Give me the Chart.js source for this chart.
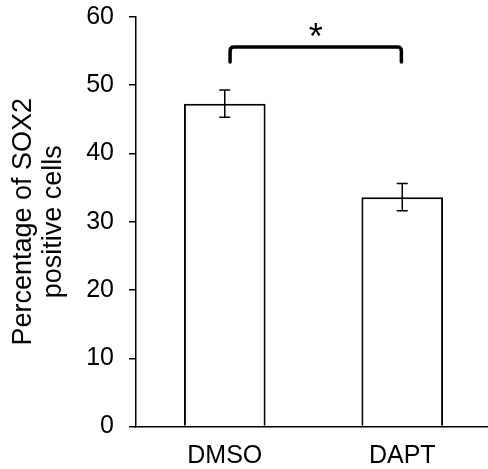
<!DOCTYPE html>
<html>
<head>
<meta charset="utf-8">
<script src="https://cdn.jsdelivr.net/npm/chart.js@4.4.0/dist/chart.umd.min.js"></script>
<style>
  html, body { margin: 0; background: #fff; overflow: hidden; }
  #wrap { width: 491px; height: 486px; }
</style>
</head>
<body>
<div id="wrap"><canvas id="grafica" width="491" height="486"></canvas></div>
<script>
// datos
const categorias = ["DMSO", "DAPT"];
const medias = [47.3, 33.6];
const errores = [2.0, 2.0];
const yMin = 0, yMax = 60, yPaso = 10;
const tituloY = ["Percentage of SOX2", "positive cells"];
// corchete de significancia
const parSig = [0, 1];
const nivelSig = 55.6;
const caidaSig = 2.2;
const marcaSig = "*";

const fuente = "'Liberation Sans', Arial, sans-serif";

// barras de error
const errorBars = {
  id: "errorBars",
  afterDatasetsDraw(chart) {
    const ctx = chart.ctx;
    const y = chart.scales.y;
    const meta = chart.getDatasetMeta(0);
    ctx.save();
    ctx.strokeStyle = "#000";
    ctx.lineWidth = 1.5;
    meta.data.forEach((bar, i) => {
      const top = y.getPixelForValue(medias[i] + errores[i]);
      const bot = y.getPixelForValue(medias[i] - errores[i]);
      const w = 5.5;
      ctx.beginPath();
      ctx.moveTo(bar.x, top); ctx.lineTo(bar.x, bot);
      ctx.moveTo(bar.x - w, top); ctx.lineTo(bar.x + w, top);
      ctx.moveTo(bar.x - w, bot); ctx.lineTo(bar.x + w, bot);
      ctx.stroke();
    });
    ctx.restore();
  }
};

// corchete con asterisco
const corchete = {
  id: "corchete",
  afterDatasetsDraw(chart) {
    const ctx = chart.ctx;
    const x = chart.scales.x, y = chart.scales.y;
    const x1 = x.getPixelForValue(parSig[0] + 0.03);
    const x2 = x.getPixelForValue(parSig[1] - 0.005);
    const yt = y.getPixelForValue(nivelSig);
    const yb = y.getPixelForValue(nivelSig - caidaSig);
    const r = 4;
    ctx.save();
    ctx.strokeStyle = "#000";
    ctx.lineWidth = 3.5;
    ctx.lineJoin = "round";
    ctx.lineCap = "round";
    ctx.beginPath();
    ctx.moveTo(x1, yb);
    ctx.lineTo(x1, yt + r);
    ctx.quadraticCurveTo(x1, yt, x1 + r, yt);
    ctx.lineTo(x2 - r, yt);
    ctx.quadraticCurveTo(x2, yt, x2, yt + r);
    ctx.lineTo(x2, yb);
    ctx.stroke();
    ctx.fillStyle = "#000";
    ctx.font = "36px " + fuente;
    ctx.textAlign = "center";
    ctx.textBaseline = "alphabetic";
    ctx.fillText(marcaSig, (x1 + x2) / 2, yt + 2);
    ctx.restore();
  }
};

new Chart(document.getElementById("grafica"), {
  type: "bar",
  data: {
    labels: categorias,
    datasets: [{
      data: medias,
      backgroundColor: "#fff",
      borderColor: "#000",
      borderWidth: 2,
      categoryPercentage: 1,
      barPercentage: 0.46
    }]
  },
  options: {
    responsive: false,
    animation: false,
    layout: { padding: { top: 17, right: 0, bottom: 0, left: 0 } },
    plugins: {
      legend: { display: false },
      tooltip: { enabled: false }
    },
    scales: {
      x: {
        grid: { display: false, drawTicks: false },
        border: { display: true, color: "#000", width: 1.5 },
        ticks: {
          color: "#000",
          padding: 16,
          font: { family: fuente, size: 25, lineHeight: 1.1 }
        }
      },
      y: {
        min: yMin,
        max: yMax,
        grid: { display: true, drawOnChartArea: false, drawTicks: true, tickLength: 7, color: "#000", lineWidth: 1.5 },
        border: { display: true, color: "#000", width: 1.5 },
        ticks: {
          stepSize: yPaso,
          color: "#000",
          padding: 15,
          // lineHeight pequeño para que la etiqueta "60" no empuje el area
          font: { family: fuente, size: 25, lineHeight: 0.1 }
        },
        title: {
          display: true,
          text: tituloY,
          color: "#000",
          padding: { top: 8.5, bottom: 3.3 },
          font: { family: fuente, size: 27, lineHeight: 1.1 }
        }
      }
    }
  },
  plugins: [errorBars, corchete]
});
</script>
</body>
</html>
